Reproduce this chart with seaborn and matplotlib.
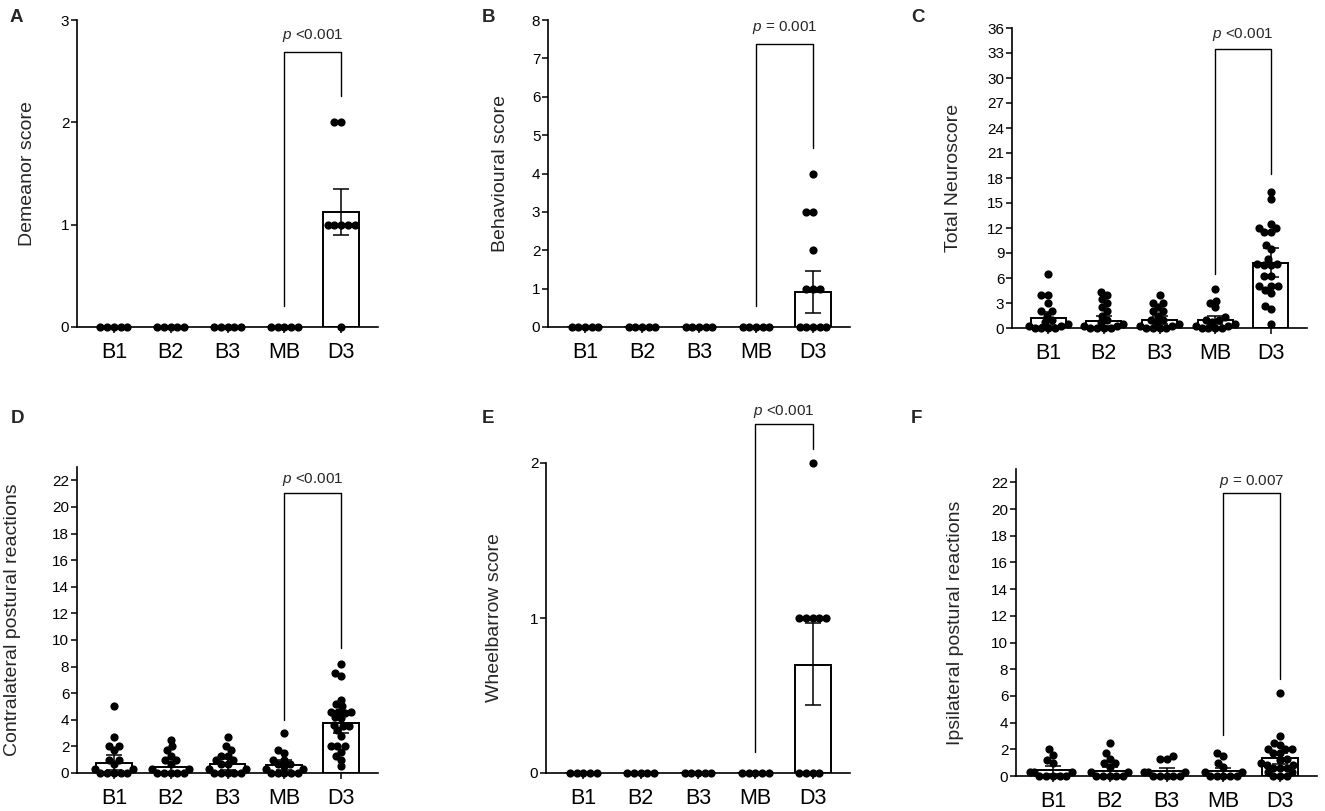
import warnings
import matplotlib
matplotlib.use("Agg")
import matplotlib.pyplot as plt
import numpy as np
import pandas as pd
import seaborn as sns

warnings.filterwarnings("ignore")

groups = ["B1", "B2", "B3", "MB", "D3"]

# A - Demeanor score
demeanor_pts = [
    [0, 0, 0, 0, 0],
    [0, 0, 0, 0, 0],
    [0, 0, 0, 0, 0],
    [0, 0, 0, 0, 0],
    [2, 2, 1, 1, 1, 1, 1, 0],
]
demeanor_mean = [0, 0, 0, 0, 1.12]
demeanor_lo = [0, 0, 0, 0, 0.90]
demeanor_hi = [0, 0, 0, 0, 1.35]

# B - Behavioural score
behav_pts = [
    [0, 0, 0, 0, 0],
    [0, 0, 0, 0, 0],
    [0, 0, 0, 0, 0],
    [0, 0, 0, 0, 0],
    [4, 3, 3, 2, 1, 1, 1, 0, 0, 0, 0, 0],
]
behav_mean = [0, 0, 0, 0, 0.90]
behav_lo = [0, 0, 0, 0, 0.36]
behav_hi = [0, 0, 0, 0, 1.47]

# C - Total Neuroscore
total_pts = [
    [6.5, 4.0, 4.0, 3.0, 2.0, 2.0, 1.5, 1.0, 0.7, 0.5, 0.3, 0.3, 0, 0, 0, 0],
    [4.3, 4.0, 3.5, 3.0, 2.5, 2.0, 1.5, 1.0, 0.7, 0.5, 0.3, 0.3, 0, 0, 0, 0],
    [4.0, 3.0, 3.0, 2.5, 2.0, 2.0, 1.5, 1.0, 1.0, 0.7, 0.5, 0.3, 0.3, 0, 0, 0, 0],
    [4.7, 3.3, 3.0, 2.5, 1.3, 1.0, 1.0, 0.7, 0.5, 0.3, 0.3, 0, 0, 0, 0],
    [16.3, 15.5, 12.5, 12.0, 12.0, 11.5, 11.5, 10.0, 9.5, 8.3, 7.7, 7.7,
     7.6, 7.6, 6.2, 6.2, 5.0, 5.0, 5.0, 4.6, 4.2, 2.6, 2.3, 0.5],
]
total_mean = [1.16, 0.84, 0.96, 0.96, 7.84]
total_lo = [0.40, 0.25, 0.45, 0.45, 6.16]
total_hi = [1.88, 1.44, 1.50, 1.50, 9.64]

# D - Contralateral postural reactions
contra_pts = [
    [5.0, 2.7, 2.0, 2.0, 1.7, 1.0, 1.0, 0.7, 0.3, 0.3, 0, 0, 0, 0, 0],
    [2.5, 2.0, 1.7, 1.3, 1.0, 1.0, 0.7, 0.3, 0.3, 0, 0, 0, 0, 0],
    [2.7, 2.0, 1.7, 1.3, 1.3, 1.0, 1.0, 0.7, 0.7, 0.3, 0.3, 0, 0, 0, 0, 0],
    [3.0, 1.7, 1.5, 1.0, 1.0, 0.7, 0.7, 0.5, 0.3, 0.3, 0, 0, 0, 0, 0],
    [8.2, 7.5, 7.3, 5.5, 5.2, 5.0, 4.6, 4.6, 4.6, 4.5, 4.2, 4.1, 3.6, 3.5,
     3.5, 3.2, 2.8, 2.0, 2.0, 2.0, 1.6, 1.3, 1.0, 0.5],
]
contra_mean = [0.78, 0.43, 0.65, 0.60, 3.78]
contra_lo = [0.25, 0.10, 0.25, 0.20, 2.98]
contra_hi = [1.35, 0.78, 1.05, 0.98, 4.68]

# E - Wheelbarrow score
wheel_pts = [
    [0, 0, 0, 0, 0],
    [0, 0, 0, 0, 0],
    [0, 0, 0, 0, 0],
    [0, 0, 0, 0, 0],
    [2, 1, 1, 1, 1, 1, 0, 0, 0, 0],
]
wheel_mean = [0, 0, 0, 0, 0.70]
wheel_lo = [0, 0, 0, 0, 0.44]
wheel_hi = [0, 0, 0, 0, 0.97]

# F - Ipsilateral postural reactions
ipsi_pts = [
    [2.0, 1.6, 1.2, 1.0, 0.3, 0.3, 0.3, 0, 0, 0, 0, 0],
    [2.5, 1.7, 1.3, 1.0, 1.0, 0.7, 0.3, 0.3, 0, 0, 0, 0, 0],
    [1.5, 1.3, 1.3, 0.3, 0.3, 0.3, 0, 0, 0, 0, 0],
    [1.7, 1.5, 1.0, 0.7, 0.3, 0.3, 0, 0, 0, 0, 0],
    [6.25, 3.0, 2.5, 2.3, 2.0, 2.0, 2.0, 1.7, 1.7, 1.3, 1.2, 1.0, 0.8, 0.8,
     0.6, 0.6, 0.6, 0.3, 0.3, 0, 0, 0],
]
ipsi_mean = [0.42, 0.37, 0.35, 0.35, 1.32]
ipsi_lo = [0.12, 0.10, 0.10, 0.10, 0.88]
ipsi_hi = [0.72, 0.68, 0.60, 0.60, 1.75]

# brackets MB vs D3: (left leg bottom, top, right leg bottom), text height
p_texts = ["<0.001", "= 0.001", "<0.001", "<0.001", "<0.001", "= 0.007"]
brackets = [(0.21, 2.69, 2.26), (0.55, 7.37, 4.67), (6.5, 33.5, 18.5),
            (4.0, 21.05, 9.4), (0.136, 2.25, 2.09), (3.07, 21.2, 7.3)]
p_text_y = [2.85, 7.80, 35.2, 22.05, 2.33, 22.07]

ylabels = ["Demeanor score", "Behavioural score", "Total Neuroscore",
           "Contralateral postural reactions", "Wheelbarrow score",
           "Ipsilateral postural reactions"]
letters = ["A", "B", "C", "D", "E", "F"]

sns.set_style("ticks")
plt.rcParams["font.family"] = ["Liberation Sans", "DejaVu Sans"]
plt.rcParams["mathtext.fontset"] = "custom"
plt.rcParams["mathtext.it"] = "Liberation Sans:italic"
plt.rcParams["mathtext.rm"] = "Liberation Sans"

W, H = 1325, 811
fig = plt.figure(figsize=(W / 100, H / 100), dpi=100)

# axes boxes in pixels: left, top, right, bottom
boxes = [(77, 20, 378, 327), (548, 20, 850, 327), (1012, 28, 1307, 328),
         (77, 467, 378, 773), (546, 463, 850, 773), (1016, 469, 1317, 776)]
ylims = [3, 8, 36, 23, 2, 23]
yticks = [[0, 1, 2, 3], list(range(0, 9)), list(range(0, 37, 3)),
          list(range(0, 23, 2)), [0, 1, 2], list(range(0, 23, 2))]
letter_pos = [(10, 22), (482, 22), (911, 22), (11, 423), (482, 423), (911, 423)]
ylabel_x = [28, 500, 954, 13, 495, 956]

all_pts = [demeanor_pts, behav_pts, total_pts, contra_pts, wheel_pts, ipsi_pts]
all_mean = [demeanor_mean, behav_mean, total_mean, contra_mean, wheel_mean, ipsi_mean]
all_lo = [demeanor_lo, behav_lo, total_lo, contra_lo, wheel_lo, ipsi_lo]
all_hi = [demeanor_hi, behav_hi, total_hi, contra_hi, wheel_hi, ipsi_hi]

swarm_colls = []
for i in range(6):
    l, t, r, b = boxes[i]
    ax = fig.add_axes([l / W, 1 - b / H, (r - l) / W, (b - t) / H])
    pts = all_pts[i]
    df = pd.DataFrame({"group": np.repeat(groups, [len(p) for p in pts]),
                       "value": np.concatenate(pts)})
    means = all_mean[i]

    # mean bars
    sns.barplot(x=groups, y=means, order=groups, color="white", edgecolor="black",
                linewidth=1.4, width=0.63, errorbar=None, saturation=1, ax=ax, zorder=1)
    # individual animals
    n_before = len(ax.collections)
    sns.swarmplot(data=df, x="group", y="value", order=groups, color="black",
                  size=4.6, ax=ax, zorder=3, clip_on=False)
    swarm_colls += ax.collections[n_before:]
    # error bars
    lo = np.array(means) - np.array(all_lo[i])
    hi = np.array(all_hi[i]) - np.array(means)
    ax.errorbar(range(5), means, yerr=[lo, hi], fmt="none", ecolor="black",
                elinewidth=1.1, capsize=6, capthick=1.1, zorder=4, clip_on=False)

    # significance bracket between MB and D3
    yl, yt, yr = brackets[i]
    ax.plot([3, 3, 4, 4], [yl, yt, yt, yr], color="black", lw=1.0, clip_on=False, zorder=2)
    ax.text(3.5, p_text_y[i], "$p$ " + p_texts[i], ha="center", va="center",
            fontsize=11, clip_on=False)

    ax.set_xlim(-0.65, 4.65)
    ax.set_ylim(0, ylims[i])
    ax.set_yticks(yticks[i])
    ax.set_xlabel("")
    ax.set_ylabel("")
    sns.despine(ax=ax)
    for s in ["left", "bottom"]:
        ax.spines[s].set_linewidth(1.2)
        ax.spines[s].set_color("black")
    ax.tick_params(axis="y", labelsize=11, length=4, width=1.1, pad=1.5, colors="black")
    ax.tick_params(axis="x", labelsize=15.5, length=4, width=1.1, pad=6.5, colors="black")

    fig.text(letter_pos[i][0] / W, 1 - letter_pos[i][1] / H, letters[i],
             fontsize=13.5, fontweight="bold", ha="left", va="baseline")
    fig.text(ylabel_x[i] / W, 1 - ((t + b) / 2) / H, ylabels[i], rotation=90,
             ha="center", va="center", fontsize=14)

# let seaborn place the swarms once, then keep those positions and draw the
# dots a little fatter so neighbours overlap like in the prism figure
fig.canvas.draw()
for coll in swarm_colls:
    if "draw" in coll.__dict__:
        del coll.draw
    coll.set_edgecolor("black")
    coll.set_linewidth(1.3)

fig.savefig("out.png", dpi=100)
